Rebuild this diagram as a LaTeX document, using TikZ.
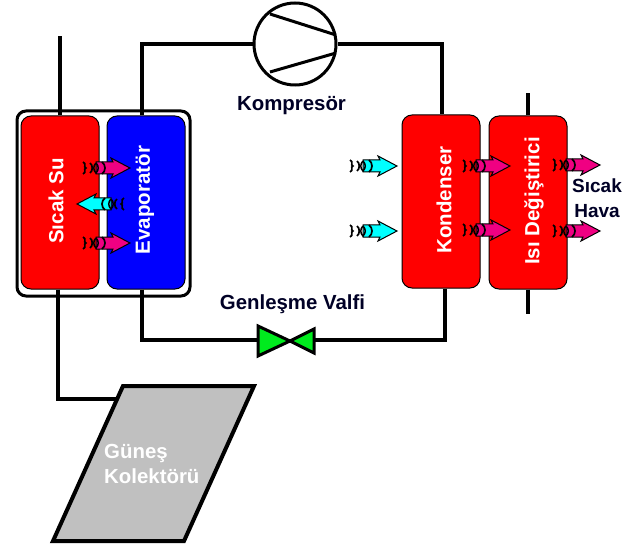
\documentclass[tikz,border=0pt]{standalone}
\usepackage{fontspec}
\setmainfont{Liberation Sans}
\definecolor{hotpink}{RGB}{240,0,130}
\definecolor{vgreen}{RGB}{0,235,30}
\definecolor{panel}{RGB}{192,192,192}
\definecolor{aqua}{RGB}{0,255,255}
\tikzset{
  x=1pt,y=-1pt,
  box/.style={draw=black,line width=1pt,rounded corners=10pt,minimum width=78pt,minimum height=173pt,inner sep=0pt},
  boxtext/.style={rotate=90,inner sep=0pt,text=white,font=\fontsize{20.5}{22}\selectfont\bfseries},
  lab/.style={inner sep=0pt,align=center,text=black!85!blue,font=\fontsize{20.4}{25}\selectfont\bfseries},
  pipe/.style={draw=black,line width=3.5pt},
  pics/heat/.style={code={
    \path[draw=black,line width=1pt,fill=#1] (14,-6)--(31,-6)--(29,-10)--(48,0)--(29,10)--(31,6)--(14,6)--cycle;
    \draw[black,line width=1.7pt] (1,-6) .. controls (5,-4) and (1,-1) .. (4,0) .. controls (1,1) and (5,4) .. (1,6);
    \draw[black,line width=1.7pt] (8,-5) .. controls (11,-3) and (11,3) .. (8,5);
    \draw[black,line width=1.5pt] (14,-5) .. controls (11,-2) and (11,2) .. (14,5) .. controls (17,2) and (17,-2) .. (14,-5);
    \draw[black,line width=1.7pt] (20,-6) .. controls (24,-3) and (24,3) .. (20,6);
  }}
}
\begin{document}
\begin{tikzpicture}
\useasboundingbox (0,0) rectangle (637,548);
\fill[white] (0,0) rectangle (637,548);
% housing and exchangers
\node[draw=black,line width=3pt,rounded corners=9pt,minimum width=173pt,minimum height=185pt,inner sep=0pt] (housing) at (103.5,203.5) {};
\node[box,fill=red] (su) at (60,202.5) {};
\node[box,fill=blue] (evap) at (146,202.5) {};
\node[box,fill=red] (kond) at (441,201.5) {};
\node[box,fill=red] (isi) at (528,202.5) {};
\node[boxtext] (sul) at (56,201) {Sıcak Su};
\node[boxtext] (evapl) at (145,200) {Evaporatör};
\node[boxtext] (kondl) at (444,200) {Kondenser};
\node[boxtext] (isil) at (534,201) {Isı Değiştirici};
% compressor
\node[circle,draw=black,line width=3pt,minimum size=82pt,inner sep=0pt] (komp) at (295,44) {};
\draw[line width=3pt] (komp.center) ++(-25,-30) -- ++(66,21);
\draw[line width=3pt] (komp.center) ++(-25,28) -- ++(66,-19);
\node[lab,anchor=base] (kompl) at (291.5,111) {Kompresör};
% valve
\coordinate (valve) at (290,341);
\coordinate (valveL) at (257,340);
\coordinate (valveR) at (314,340);
\draw[fill=vgreen,draw=black,line width=3pt,line join=miter] (258,326)--(valve)--(258,356)--cycle;
\draw[fill=vgreen,draw=black,line width=3pt,line join=miter] (314,329)--(valve)--(314,353)--cycle;
\node[lab,anchor=base] (valvel) at (292.5,309) {Genleşme Valfi};
% collector
\coordinate (kTL) at (123,386);
\coordinate (kTR) at (254,386);
\coordinate (kBR) at (184,541);
\coordinate (kBL) at (53,541);
\draw[fill=panel,draw=black,line width=4pt,line join=miter] (kTL)--(kTR)--(kBR)--(kBL)--cycle;
\coordinate (kin) at (118,399);
\node[inner sep=0pt,align=left,anchor=north west,text=white,font=\fontsize{20.4}{25}\selectfont\bfseries] (koll) at (104,444.5) {Güneş\\Kolektörü};
% pipes
\coordinate (sutop) at (60,36);
\coordinate (isitop) at (528,93);
\coordinate (isibot) at (528,314);
\draw[pipe] (su.north) -- (sutop);
\draw[pipe] ([xshift=-4pt]evap.north) |- (komp.west);
\draw[pipe] (komp.east) -| ([xshift=1pt]kond.north);
\draw[pipe] ([xshift=4pt]kond.south) |- (valveR);
\draw[pipe] ([xshift=-4pt]evap.south) |- (valveL);
\draw[pipe] ([xshift=-2pt]su.south) |- (kin);
\draw[pipe] (isi.north) -- (isitop);
\draw[pipe] (isi.south) -- (isibot);
% heat arrows
\pic at (82,168) {heat=hotpink};
\pic at (82,243) {heat=hotpink};
\pic[xscale=-1] at (125,204) {heat=aqua};
\pic at (349,166) {heat=aqua};
\pic at (349,231) {heat=aqua};
\pic at (462,166) {heat=hotpink};
\pic at (462,230) {heat=hotpink};
\pic at (552,165) {heat=hotpink};
\pic at (552,231) {heat=hotpink};
\node[lab,align=center,anchor=north,font=\fontsize{19}{25}\selectfont\bfseries] (hava) at (597,179) {Sıcak\\Hava};
\end{tikzpicture}
\end{document}
